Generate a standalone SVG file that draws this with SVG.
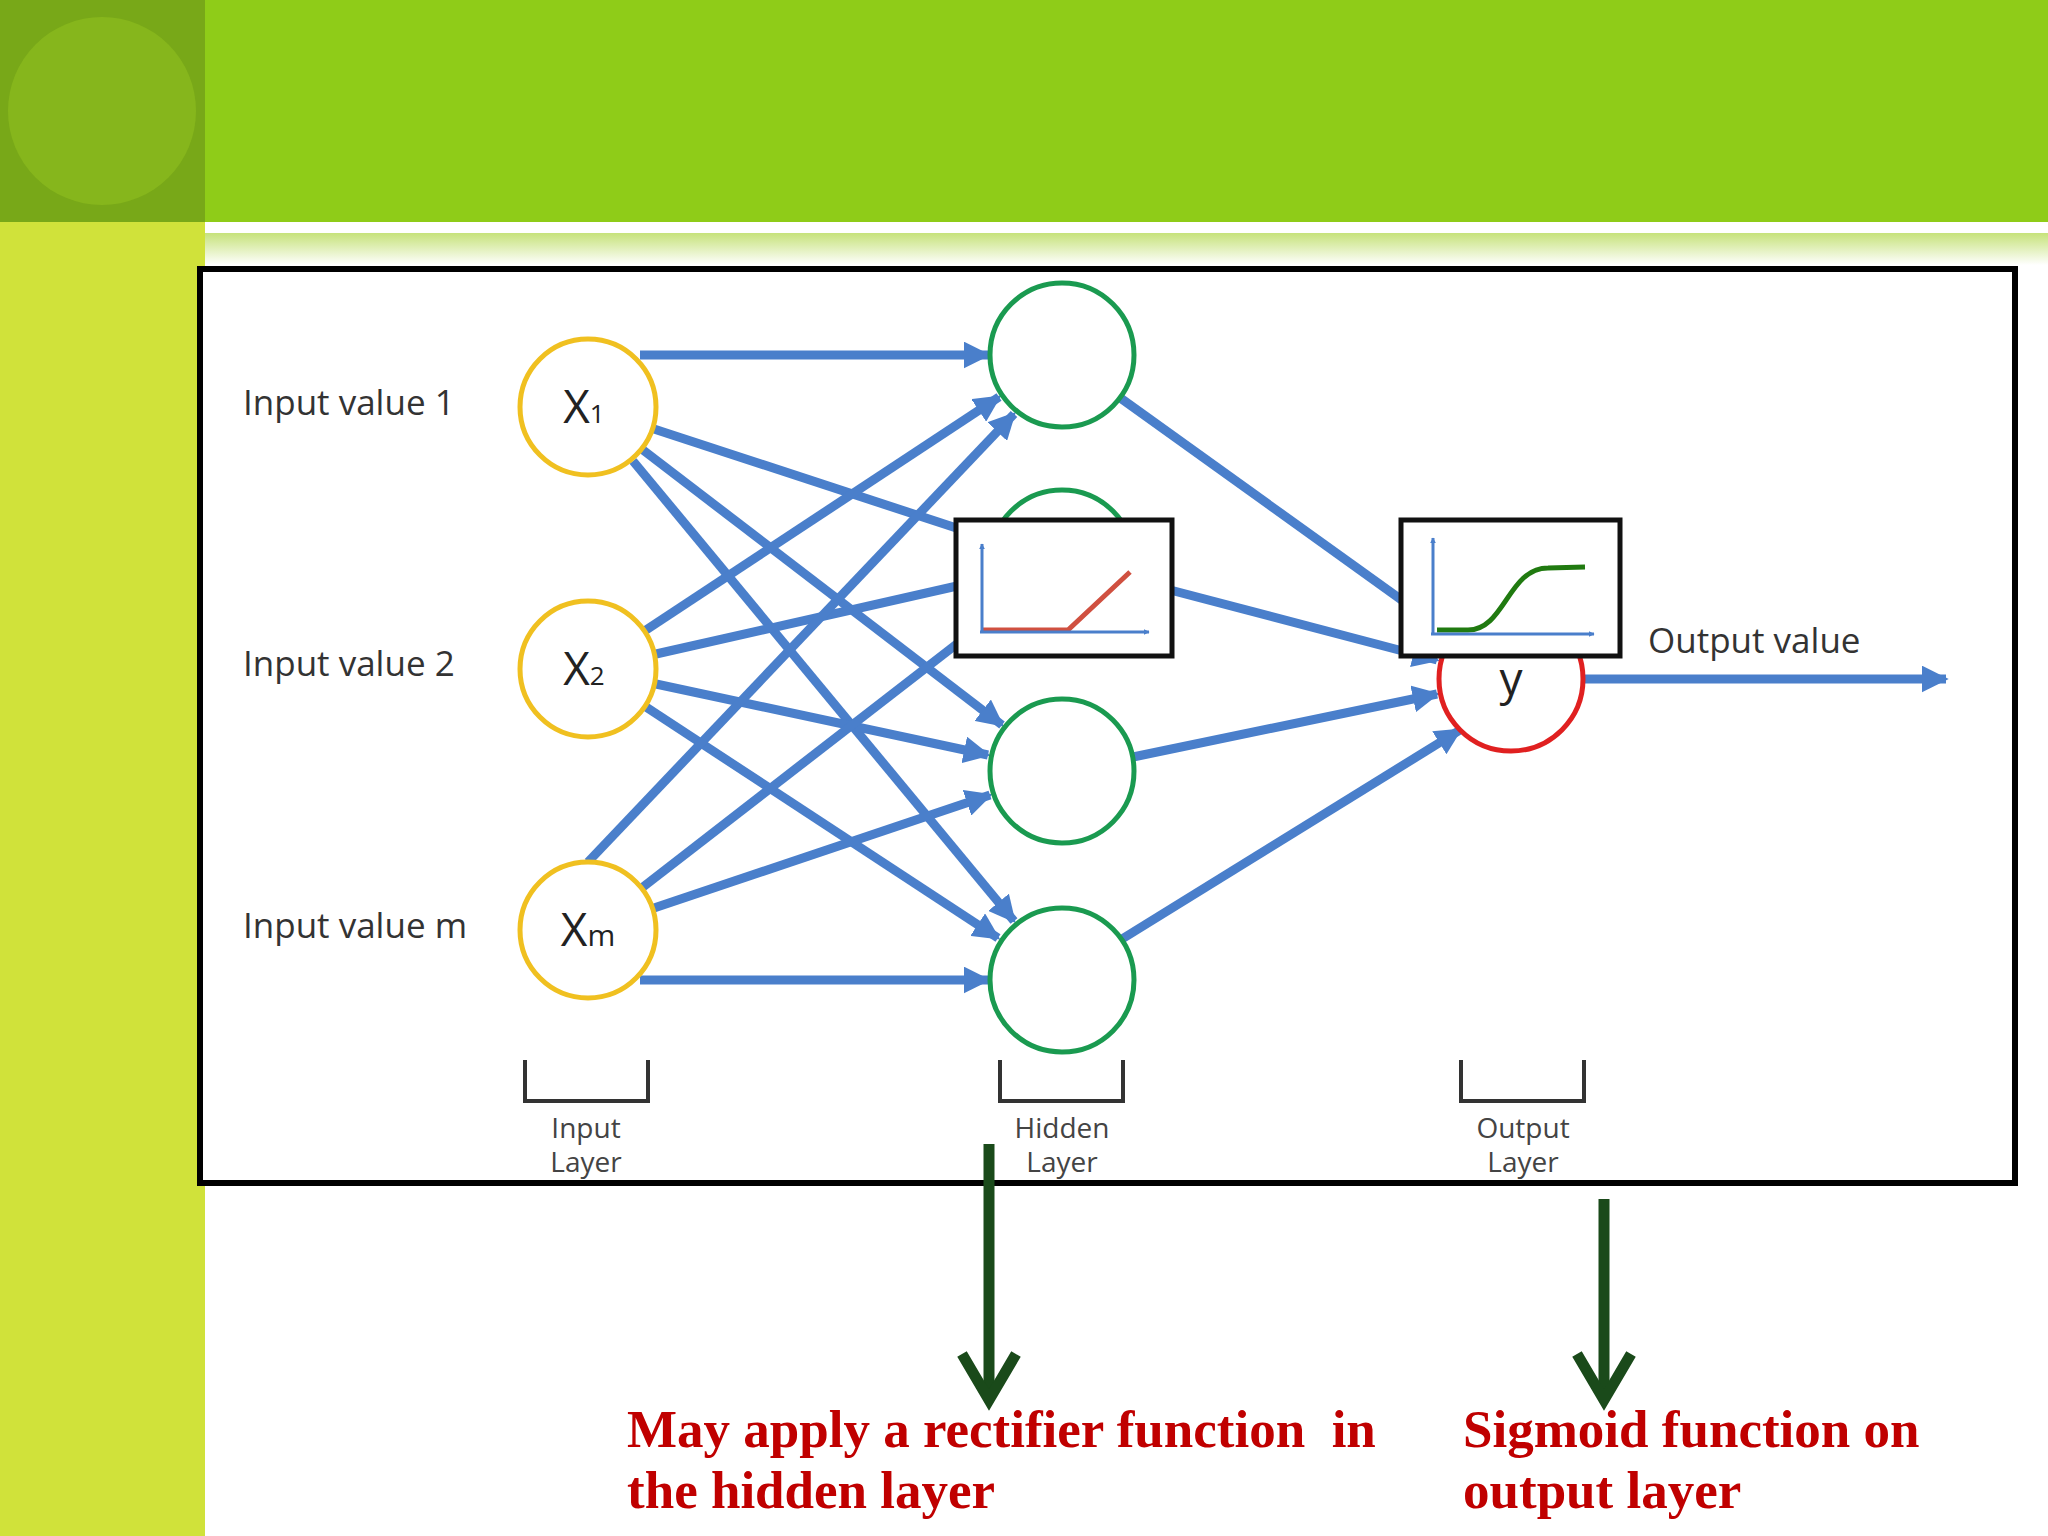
<svg xmlns="http://www.w3.org/2000/svg" width="2048" height="1536" viewBox="0 0 2048 1536">
<defs>
<marker id="ah" viewBox="0 0 10 10" refX="9" refY="5" markerWidth="3" markerHeight="3" orient="auto" markerUnits="strokeWidth"><path d="M0,0 L10,5 L0,10 z" fill="#4a7fcb"/></marker>
<marker id="sa" viewBox="0 0 10 10" refX="9" refY="5" markerWidth="6" markerHeight="6" orient="auto" markerUnits="userSpaceOnUse"><path d="M0,0 L10,5 L0,10 z" fill="#4a7fcb"/></marker>
<linearGradient id="fade" x1="0" y1="0" x2="0" y2="1"><stop offset="0" stop-color="#c6e27a"/><stop offset="1" stop-color="#ffffff"/></linearGradient>
<style>
.e{stroke:#4a7fcb;stroke-width:9;fill:none;marker-end:url(#ah)}
.in{fill:#fff;stroke:#f0c020;stroke-width:5}
.hd{fill:#fff;stroke:#1a9a50;stroke-width:5}
.lbl{font-family:"Open Sans",Lato,sans-serif;font-size:35px;fill:#333}
.lay{font-family:"Open Sans",Lato,sans-serif;font-size:28px;fill:#444;text-anchor:middle}
.nx{font-family:"Open Sans",Lato,sans-serif;font-size:46px;fill:#222;text-anchor:middle}
.br{fill:none;stroke:#333;stroke-width:4}
.red{font-family:"Liberation Serif",serif;font-weight:bold;font-size:53px;fill:#c00000}
.gbox{fill:#fff;stroke:#111;stroke-width:5}
</style>
</defs>
<rect width="2048" height="1536" fill="#ffffff"/>
<rect x="0" y="0" width="2048" height="222" fill="#8fcc18"/>
<rect x="0" y="0" width="205" height="222" fill="#78a818"/>
<circle cx="102" cy="111" r="94" fill="#86b61c"/>
<rect x="0" y="222" width="205" height="1314" fill="#d0e23a"/>
<rect x="205" y="233" width="1843" height="32" fill="url(#fade)"/>
<rect x="200" y="269" width="1815" height="914" fill="#fff" stroke="#000" stroke-width="6"/>
<g id="connectors">
<line class="e" x1="640" y1="355" x2="988" y2="355"/>
<line class="e" x1="654" y1="429" x2="990" y2="539"/>
<line class="e" x1="643" y1="450" x2="1002" y2="725"/>
<line class="e" x1="633" y1="461" x2="1014" y2="921"/>
<line class="e" x1="646" y1="630" x2="999" y2="397"/>
<line class="e" x1="656" y1="654" x2="988" y2="579"/>
<line class="e" x1="656" y1="684" x2="988" y2="755"/>
<line class="e" x1="646" y1="707" x2="998" y2="938"/>
<line class="e" x1="588" y1="862" x2="1014" y2="414"/>
<line class="e" x1="643" y1="887" x2="1002" y2="609"/>
<line class="e" x1="654" y1="908" x2="990" y2="795"/>
<line class="e" x1="640" y1="980" x2="988" y2="980"/>
<line class="e" x1="1119" y1="397" x2="1449" y2="634"/>
<line class="e" x1="1132" y1="580" x2="1437" y2="660"/>
<line class="e" x1="1133" y1="757" x2="1437" y2="694"/>
<line class="e" x1="1122" y1="939" x2="1460" y2="730"/>
<line class="e" x1="1584" y1="679" x2="1946" y2="679"/>
</g>
<g id="x1"><circle class="in" cx="588" cy="407" r="68"/><text class="nx" x="584" y="423">X<tspan font-size="26">1</tspan></text></g>
<g id="x2"><circle class="in" cx="588" cy="669" r="68"/><text class="nx" x="584" y="685">X<tspan font-size="26">2</tspan></text></g>
<g id="xm"><circle class="in" cx="588" cy="930" r="68"/><text class="nx" x="588" y="946">X<tspan font-size="30">m</tspan></text></g>
<g id="h1"><circle class="hd" cx="1062" cy="355" r="72"/></g>
<g id="h2"><circle class="hd" cx="1062" cy="562" r="72"/></g>
<g id="h3"><circle class="hd" cx="1062" cy="771" r="72"/></g>
<g id="h4"><circle class="hd" cx="1062" cy="980" r="72"/></g>
<g id="y"><circle cx="1511" cy="679" r="72" fill="#fff" stroke="#e02020" stroke-width="5"/><text class="nx" x="1511" y="695">y</text></g>
<g id="relu">
<rect class="gbox" x="956" y="520" width="216" height="136"/>
<polyline points="982,630 1068,630 1130,572" fill="none" stroke="#d05040" stroke-width="5"/>
<line x1="982" y1="632" x2="982" y2="544" stroke="#4a7fcb" stroke-width="3" marker-end="url(#sa)"/>
<line x1="980" y1="632" x2="1149" y2="632" stroke="#4a7fcb" stroke-width="3" marker-end="url(#sa)"/>
</g>
<g id="sigmoid">
<rect class="gbox" x="1401" y="520" width="219" height="136"/>
<path d="M1437,630 L1468,630 C1505,630 1508,568 1548,568 L1585,567" fill="none" stroke="#207a10" stroke-width="5"/>
<line x1="1433" y1="634" x2="1433" y2="538" stroke="#4a7fcb" stroke-width="3" marker-end="url(#sa)"/>
<line x1="1431" y1="634" x2="1594" y2="634" stroke="#4a7fcb" stroke-width="3" marker-end="url(#sa)"/>
</g>
<text class="lbl" x="243" y="415">Input value 1</text>
<text class="lbl" x="243" y="676">Input value 2</text>
<text class="lbl" x="243" y="938">Input value m</text>
<text class="lbl" x="1648" y="653">Output value</text>
<path class="br" d="M525,1060 V1101 H648 V1060"/>
<path class="br" d="M1000,1060 V1101 H1123 V1060"/>
<path class="br" d="M1461,1060 V1101 H1584 V1060"/>
<text class="lay" x="586" y="1138">Input</text><text class="lay" x="586" y="1172">Layer</text>
<text class="lay" x="1062" y="1138">Hidden</text><text class="lay" x="1062" y="1172">Layer</text>
<text class="lay" x="1523" y="1138">Output</text><text class="lay" x="1523" y="1172">Layer</text>
<g id="arrows" stroke="#1a4a1a" stroke-width="11" fill="none">
<line x1="989" y1="1144" x2="989" y2="1396"/>
<polyline points="962,1354 989,1400 1016,1354"/>
<line x1="1604" y1="1199" x2="1604" y2="1396"/>
<polyline points="1577,1354 1604,1400 1631,1354"/>
</g>
<text class="red" x="627" y="1447" xml:space="preserve">May apply a rectifier function  in</text>
<text class="red" x="627" y="1508">the hidden layer</text>
<text class="red" x="1463" y="1447">Sigmoid function on</text>
<text class="red" x="1463" y="1508">output layer</text>
</svg>
